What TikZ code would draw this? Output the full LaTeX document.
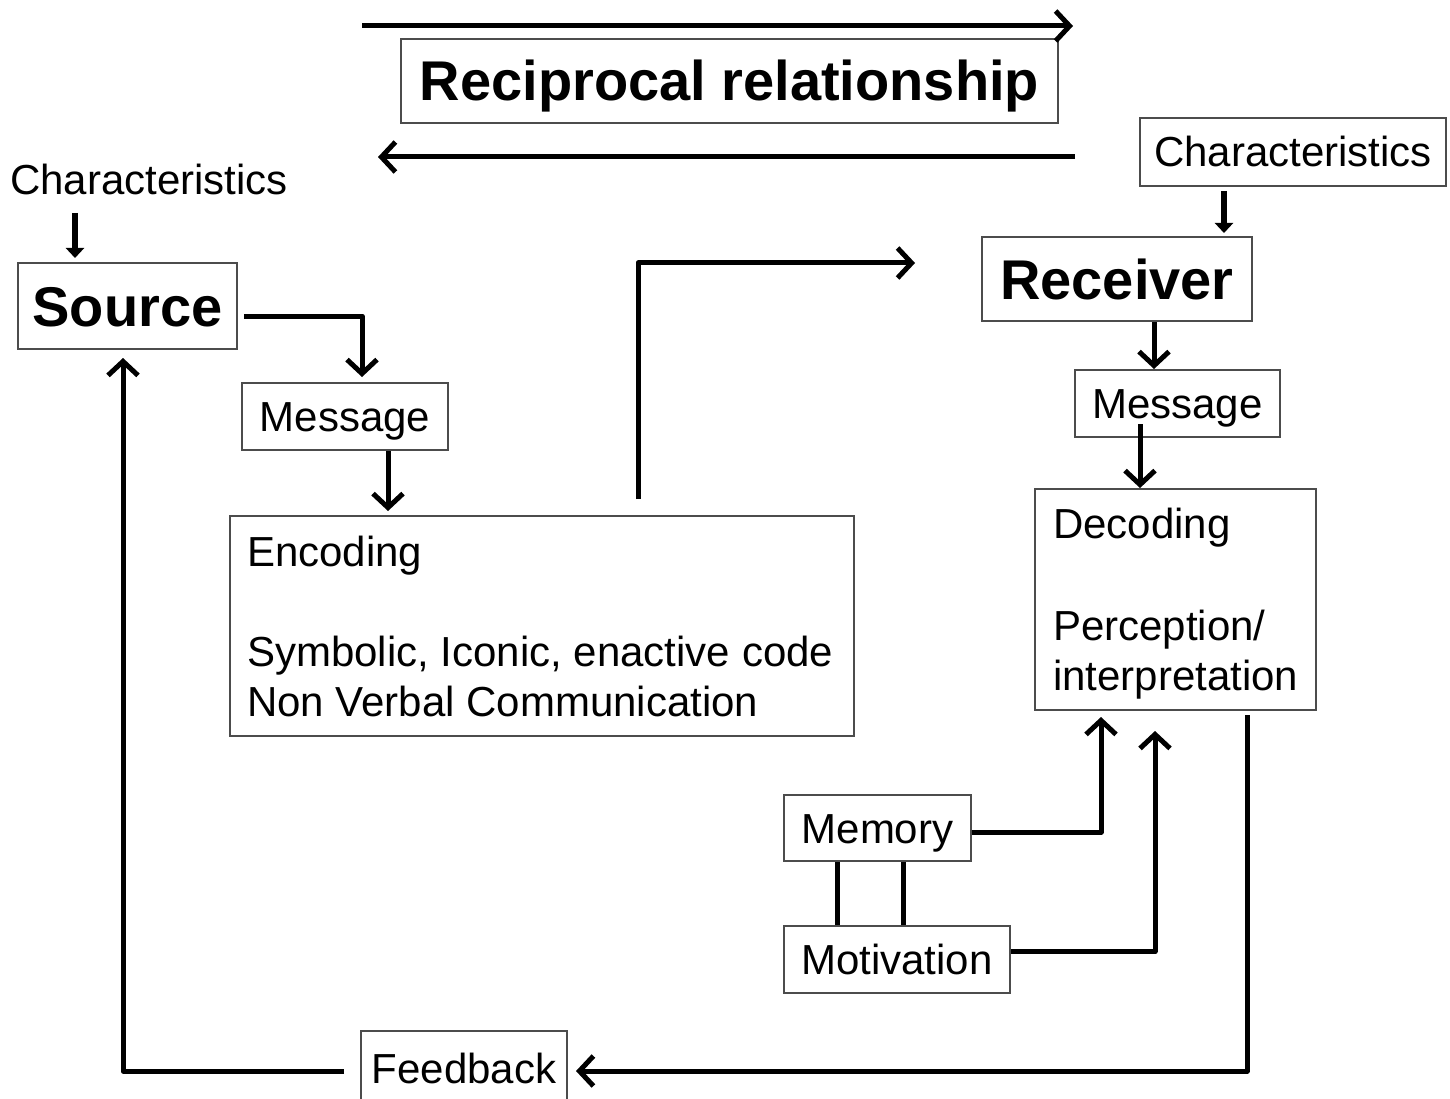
\documentclass[tikz,border=0pt]{standalone}
\usepackage{fontspec}
\setmainfont{Liberation Sans}
\usetikzlibrary{arrows.meta}
\begin{document}
\begin{tikzpicture}[x=1pt,y=-1pt,
  box/.style={draw=black!70,line width=2pt,inner sep=0pt,
    font=\fontsize{42}{50}\selectfont,text height=30pt,text depth=0pt},
  bigbox/.style={box,font=\fontsize{56}{62}\selectfont\bfseries,text height=40pt},
  txt/.style={inner sep=0pt,font=\fontsize{42}{50}\selectfont},
  arr/.style={line width=5pt,line join=round,-{Straight Barb[length=14pt,width=30pt]}},
  smallarr/.style={line width=6pt,-{Triangle[length=10pt,width=18pt]}},
  link/.style={line width=5pt}]
\useasboundingbox (0,0) rectangle (1450,1099);
\fill[white] (0,0) rectangle (1450,1099);

% boxes
\node[bigbox,minimum width=657pt,minimum height=84pt] (recip) at (729.5,81) {Reciprocal relationship};
\node[txt,anchor=base west] (charL) at (10,195) {Characteristics};
\node[box,minimum width=306pt,minimum height=68pt] (charR) at (1293,152) {Characteristics};
\node[bigbox,minimum width=219pt,minimum height=86pt] (src) at (127.5,306) {Source};
\node[bigbox,minimum width=270pt,minimum height=84pt] (recv) at (1117,279) {Receiver};
\node[box,minimum width=206pt,minimum height=67pt] (msgL) at (345,416.5) {Message};
\node[box,minimum width=205pt,minimum height=67pt] (msgR) at (1177.5,403.5) {Message};
\node[box,minimum width=624pt,minimum height=220pt] (enc) at (542,626) {};
\node[txt,anchor=base west] (encA) at (247,566) {Encoding};
\node[txt,anchor=base west] (encB) at (247,666) {Symbolic, Iconic, enactive code};
\node[txt,anchor=base west] (encC) at (247,716) {Non Verbal Communication};
\node[box,minimum width=281pt,minimum height=221pt] (dec) at (1175.5,599.5) {};
\node[txt,anchor=base west] (decA) at (1053,538) {Decoding};
\node[txt,anchor=base west] (decB) at (1053,640) {Perception/};
\node[txt,anchor=base west] (decC) at (1053,690) {interpretation};
\node[box,minimum width=187pt,minimum height=66pt] (mem) at (877.5,828) {Memory};
\node[box,minimum width=226pt,minimum height=67pt] (mot) at (897,959.5) {Motivation};
\node[box,minimum width=206pt,minimum height=74pt] (fb) at (464,1068) {Feedback};

% free ends of the open-ended arrows
\coordinate (t1) at (362,26);
\coordinate (t2) at (1073,26);
\coordinate (b1) at (1075,157);
\coordinate (b2) at (378,157);
\coordinate (t3) at (915,263);

% connectors
\draw[arr] (t1) -- (t2);
\draw[arr] (b1) -- (b2);
\draw[smallarr] ([xshift=65pt,yshift=-18pt]charL.base west) -- ([xshift=-52.5pt,yshift=4pt]src.north);
\draw[arr] ([xshift=6pt,yshift=-10pt]src.east) -| ([xshift=17pt,yshift=5pt]msgL.north);
\draw[arr] ([xshift=43pt]msgL.south) -- ([xshift=-154pt,yshift=4pt]enc.north);
\draw[arr] ([xshift=96pt,yshift=16pt]enc.north) |- (t3);
\draw[smallarr] ([xshift=-69pt,yshift=-4pt]charR.south) -- ([xshift=107pt,yshift=3pt]recv.north);
\draw[arr] ([xshift=37pt]recv.south) -- ([xshift=-23.5pt]msgR.north);
\draw[arr] ([xshift=-37.5pt,yshift=14pt]msgR.south) -- ([xshift=-35.5pt]dec.north);
\draw[arr] ([yshift=-4pt]mem.east) -| ([xshift=-74.5pt,yshift=-6pt]dec.south);
\draw[arr] ([yshift=8pt]mot.east) -| ([xshift=-20.5pt,yshift=-20pt]dec.south);
\draw[link] ([xshift=-40.5pt]mem.south) -- ([xshift=-60pt]mot.north);
\draw[link] ([xshift=25.5pt]mem.south) -- ([xshift=6pt]mot.north);
\draw[arr] ([xshift=71.5pt,yshift=-4pt]dec.south) |- ([xshift=8pt,yshift=-3pt]fb.east);
\draw[arr] ([xshift=-16pt,yshift=-3pt]fb.west) -| ([xshift=-4.5pt,yshift=-8pt]src.south);
\end{tikzpicture}
\end{document}
